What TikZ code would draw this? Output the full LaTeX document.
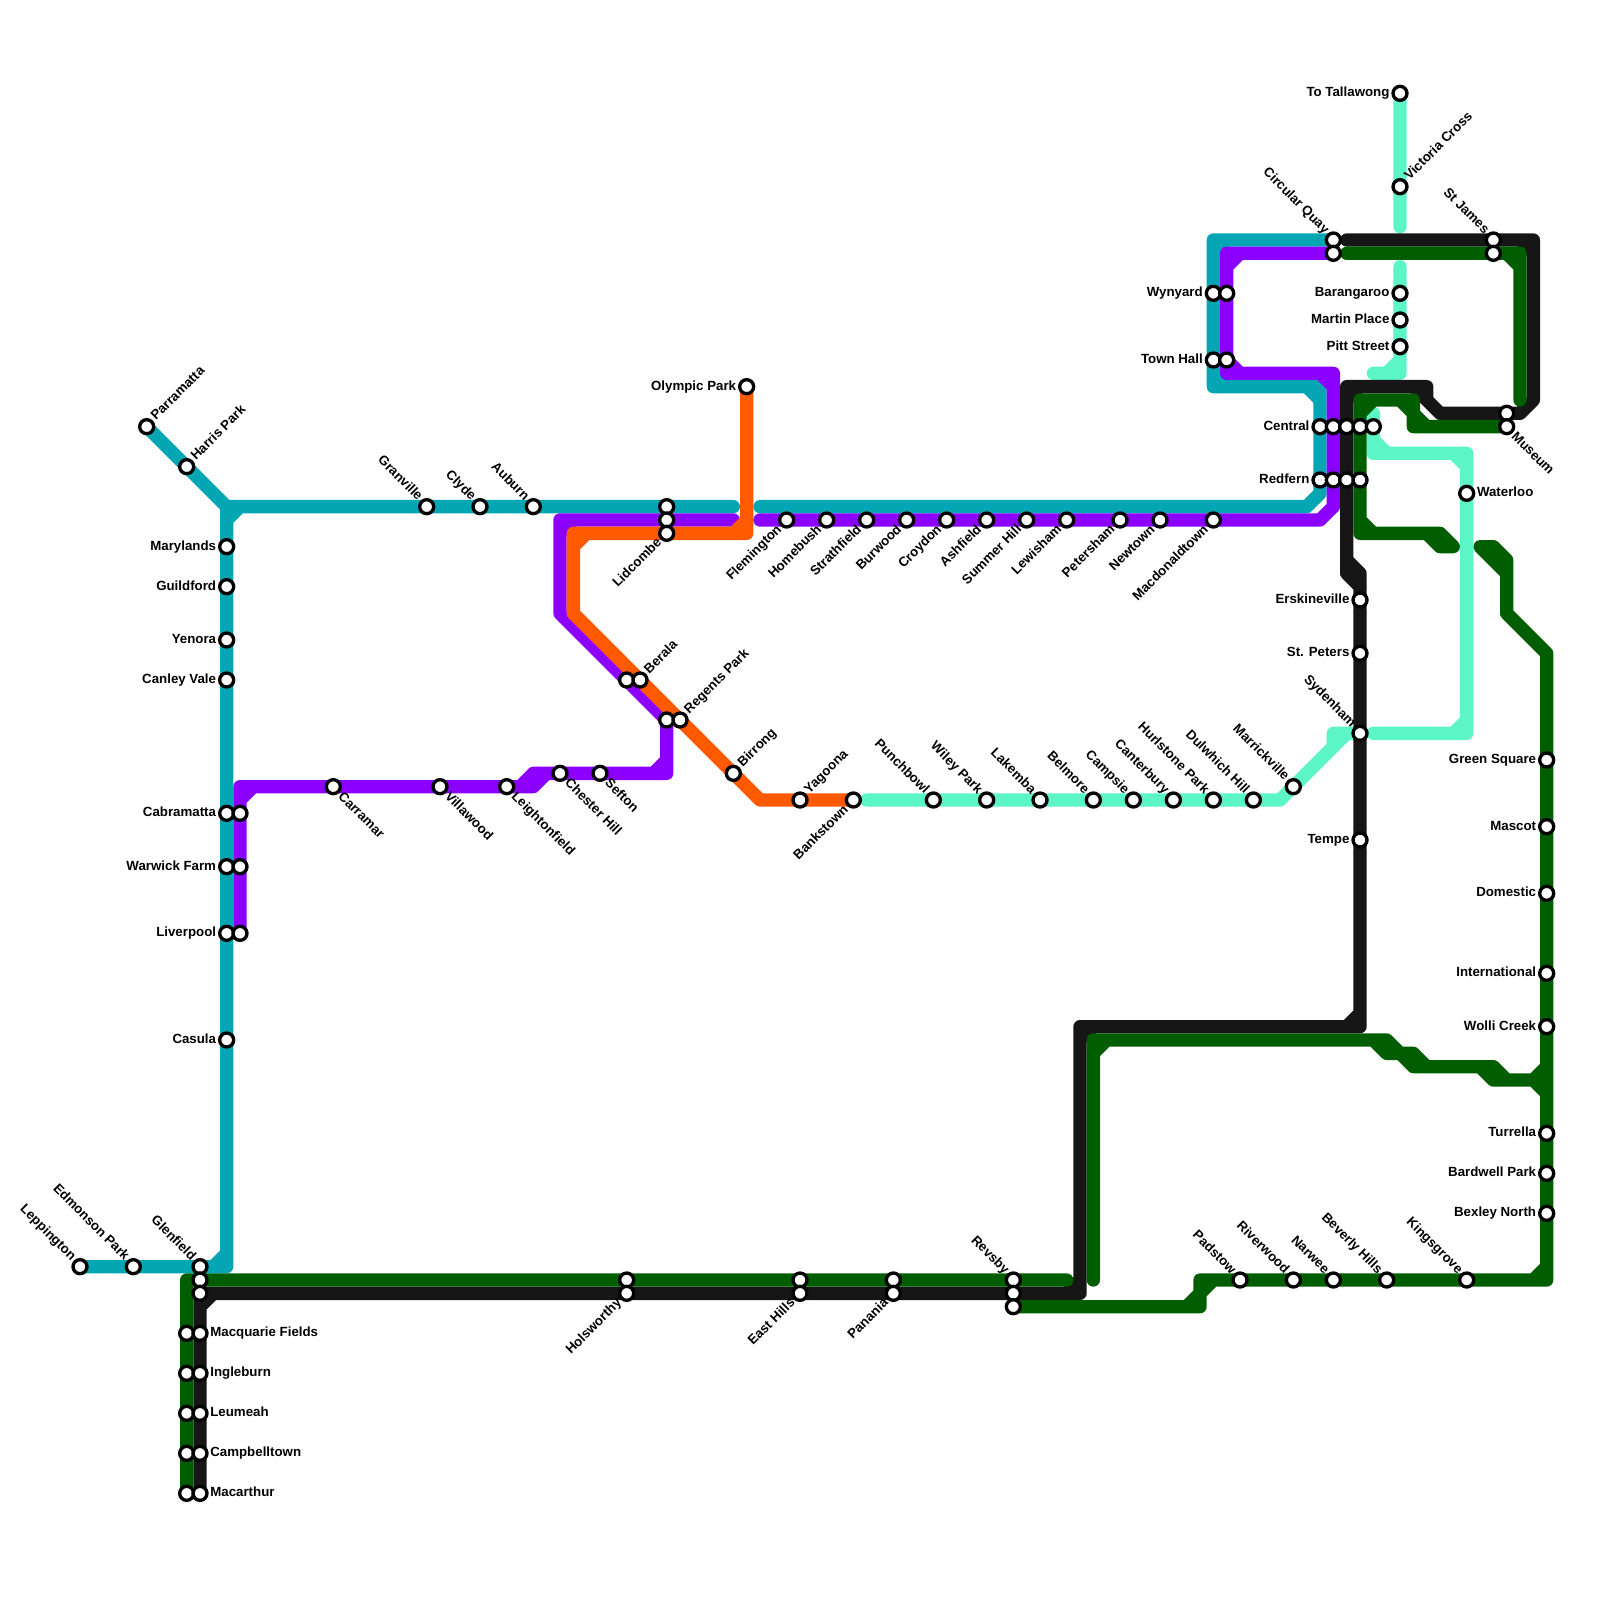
\documentclass[tikz,border=0pt]{standalone}
\usepackage{fontspec}
\setmainfont{Liberation Sans}
\pgfdeclarelayer{lines}
\pgfsetlayers{lines,main}
\definecolor{lteal}{RGB}{3,166,178}
\definecolor{lpurple}{RGB}{139,0,255}
\definecolor{lorange}{RGB}{255,90,0}
\definecolor{lmint}{RGB}{91,245,198}
\definecolor{lgreen}{RGB}{0,94,0}
\definecolor{lblack}{RGB}{22,22,22}
\tikzset{
  ln/.style={line width=2mm,line cap=round,line join=round},
  stn/.style={circle,draw=black,fill=white,line width=.05cm,minimum size=.21cm,inner sep=0pt},
  lab/.style={font=\bfseries\fontsize{5.67pt}{6pt}\selectfont,inner sep=0pt,text height=4.2pt,text depth=1.2pt,text=black}
}
\newcommand{\stN}[3]{\node[stn] (#1) at (#2,#3) {};}
\newcommand{\stL}[4]{\stN{#1}{#2}{#3}\node[lab,anchor=east] (#1t) at ([shift={(-.76,0)}]#1.center) {#4};}
\newcommand{\stR}[4]{\stN{#1}{#2}{#3}\node[lab,anchor=west] (#1t) at ([shift={(.74,0)}]#1.center) {#4};}
\newcommand{\stUR}[4]{\stN{#1}{#2}{#3}\node[lab,anchor=west,rotate=45] (#1t) at ([shift={(.5,-.6)}]#1.center) {#4};}
\newcommand{\stUL}[4]{\stN{#1}{#2}{#3}\node[lab,anchor=east,rotate=-45] (#1t) at ([shift={(-.48,-.58)}]#1.center) {#4};}
\newcommand{\stDL}[4]{\stN{#1}{#2}{#3}\node[lab,anchor=east,rotate=45] (#1t) at ([shift={(-.5,.56)}]#1.center) {#4};}
\newcommand{\stDR}[4]{\stN{#1}{#2}{#3}\node[lab,anchor=west,rotate=-45] (#1t) at ([shift={(.48,.58)}]#1.center) {#4};}
\begin{document}
\begin{tikzpicture}[x=.2cm,y=-.2cm]
\useasboundingbox (0,0) rectangle (120,120);
% stations: teal west
\stUL{lep}{6}{95}{Leppington}
\stUL{edm}{10}{95}{Edmonson Park}
\stUL{gle}{15}{95}{Glenfield}
\stN{glb}{15}{96}
\stN{glc}{15}{97}
\stUR{par}{11}{32}{Parramatta}
\stUR{har}{14}{35}{Harris Park}
\stL{mar}{17}{41}{Marylands}
\stL{gui}{17}{44}{Guildford}
\stL{yen}{17}{48}{Yenora}
\stL{can}{17}{51}{Canley Vale}
\stL{cab}{17}{61}{Cabramatta}
\stN{cabb}{18}{61}
\stL{war}{17}{65}{Warwick Farm}
\stN{warb}{18}{65}
\stL{liv}{17}{70}{Liverpool}
\stN{livb}{18}{70}
\stL{cas}{17}{78}{Casula}
\stUL{gra}{32}{38}{Granville}
\stUL{cly}{36}{38}{Clyde}
\stUL{aub}{40}{38}{Auburn}
\stN{lida}{50}{38}
\stN{lidb}{50}{39}
\stDL{lid}{50}{40}{Lidcombe}
% purple
\stDR{crr}{25}{59}{Carramar}
\stDR{vil}{33}{59}{Villawood}
\stDR{lei}{38}{59}{Leightonfield}
\stDR{che}{42}{58}{Chester Hill}
\stDR{sef}{45}{58}{Sefton}
\stN{berb}{47}{51}
\stUR{ber}{48}{51}{Berala}
\stN{regb}{50}{54}
\stUR{reg}{51}{54}{Regents Park}
\stUR{bir}{55}{58}{Birrong}
\stUR{yag}{60}{60}{Yagoona}
\stDL{ban}{64}{60}{Bankstown}
\stL{oly}{56}{29}{Olympic Park}
\stDL{fle}{59}{39}{Flemington}
\stDL{hom}{62}{39}{Homebush}
\stDL{str}{65}{39}{Strathfield}
\stDL{bur}{68}{39}{Burwood}
\stDL{cro}{71}{39}{Croydon}
\stDL{ash}{74}{39}{Ashfield}
\stDL{sum}{77}{39}{Summer Hill}
\stDL{lew}{80}{39}{Lewisham}
\stDL{pet}{84}{39}{Petersham}
\stDL{new}{87}{39}{Newtown}
\stDL{mac}{91}{39}{Macdonaldtown}
% mint
\stUL{pun}{70}{60}{Punchbowl}
\stUL{wil}{74}{60}{Wiley Park}
\stUL{lak}{78}{60}{Lakemba}
\stUL{bel}{82}{60}{Belmore}
\stUL{cam}{85}{60}{Campsie}
\stUL{cnt}{88}{60}{Canterbury}
\stUL{hur}{91}{60}{Hurlstone Park}
\stUL{dul}{94}{60}{Dulwhich Hill}
\stUL{mrk}{97}{59}{Marrickville}
\stUL{syd}{102}{55}{Sydenham}
\stL{tal}{105}{7}{To Tallawong}
\stUR{vic}{105}{14}{Victoria Cross}
\stL{bar}{105}{22}{Barangaroo}
\stL{mpl}{105}{24}{Martin Place}
\stL{pit}{105}{26}{Pitt Street}
\stR{wat}{110}{37}{Waterloo}
% city
\stUL{cq}{100}{18}{Circular Quay}
\stN{cqb}{100}{19}
\stUL{sj}{112}{18}{St James}
\stN{sjb}{112}{19}
\stN{mua}{113}{31}
\stDR{mus}{113}{32}{Museum}
\stL{wyn}{91}{22}{Wynyard}
\stN{wynb}{92}{22}
\stL{tow}{91}{27}{Town Hall}
\stN{towb}{92}{27}
\stL{cen}{99}{32}{Central}
\stN{cenb}{100}{32}
\stN{cenc}{101}{32}
\stN{cend}{102}{32}
\stN{cene}{103}{32}
\stL{red}{99}{36}{Redfern}
\stN{redb}{100}{36}
\stN{redc}{101}{36}
\stN{redd}{102}{36}
\stL{ers}{102}{45}{Erskineville}
\stL{stp}{102}{49}{St. Peters}
\stL{tem}{102}{63}{Tempe}
% green east
\stL{gsq}{116}{57}{Green Square}
\stL{mas}{116}{62}{Mascot}
\stL{dom}{116}{67}{Domestic}
\stL{int}{116}{73}{International}
\stL{wol}{116}{77}{Wolli Creek}
\stL{tur}{116}{85}{Turrella}
\stL{bwp}{116}{88}{Bardwell Park}
\stL{bxn}{116}{91}{Bexley North}
\stUL{kin}{110}{96}{Kingsgrove}
\stUL{bev}{104}{96}{Beverly Hills}
\stUL{nar}{100}{96}{Narwee}
\stUL{riv}{97}{96}{Riverwood}
\stUL{pad}{93}{96}{Padstow}
\stUL{rev}{76}{96}{Revsby}
\stN{revb}{76}{97}
\stN{revc}{76}{98}
\stN{pana}{67}{96}
\stDL{pan}{67}{97}{Panania}
\stN{eaa}{60}{96}
\stDL{eas}{60}{97}{East Hills}
\stN{hola}{47}{96}
\stDL{hol}{47}{97}{Holsworthy}
% south-west
\stN{mqa}{14}{100}
\stR{mqf}{15}{100}{Macquarie Fields}
\stN{inga}{14}{103}
\stR{ing}{15}{103}{Ingleburn}
\stN{leua}{14}{106}
\stR{leu}{15}{106}{Leumeah}
\stN{cama}{14}{109}
\stR{cmp}{15}{109}{Campbelltown}
\stN{maca}{14}{112}
\stR{mcr}{15}{112}{Macarthur}
\begin{pgfonlayer}{lines}
% teal
\draw[ln,lteal] (lep.center) -- (17,95) -- (17,38) (17,94) -- (16,95)
  (par.center) -- (17,38) -- (55,38) (17,39) -- (18,38)
  (57,38) -- (98,38) -- (99,37) -- (99,29) -- (91,29) -- (91,18) -- (cq.center)
  (98,29) -- (99,30) (91,28) -- (92,29) (91,19) -- (92,18);
% purple
\draw[ln,lpurple] (55,39) -- (42,39) -- (42,46) -- (regb.center) -- (50,58) -- (41,58) -- (40,59) -- (18,59) -- (livb.center)
  (39,59) -- (40,58) -- (41,58) (50,57) -- (49,58) (42,40) -- (43,39) (18,60) -- (19,59)
  (57,39) -- (99,39) -- (100,38) -- (100,28) -- (92,28) -- (92,19) -- (cqb.center)
  (99,28) -- (100,29) (92,27) -- (93,28) (92,20) -- (93,19);
% orange
\draw[ln,lorange] (oly.center) -- (56,40) -- (43,40) -- (43,46) -- (57,60) -- (ban.center)
  (55,40) -- (56,39) (43,41) -- (44,40);
% mint
\draw[ln,lmint] (tal.center) -- (105,17) (105,20) -- (105,28) -- (103,28) (104,28) -- (105,27)
  (103,31) -- (103,34) -- (110,34) -- (110,55) -- (103,55)
  (103,33) -- (104,34) (109,34) -- (110,35) (110,54) -- (109,55)
  (65,60) -- (96,60) -- (101,55) -- (100,55) -- (100,56) (101,55) -- (syd.center);
% black
\draw[ln,lblack] (mcr.center) -- (glc.center) -- (81,97) -- (81,77) -- (102,77) -- (102,43) -- (101,42) -- (101,29) -- (107,29) -- (107,30) -- (108,31) -- (114,31) -- (115,30) -- (115,18) -- (101,18)
  (101,42) -- (101,43) -- (102,44) -- (102,43)
  (15,98) -- (16,97) (80,97) -- (81,96) (81,78) -- (82,77) (101,77) -- (102,76) (101,30) -- (102,29) (106,29) -- (107,30) (114,18) -- (115,19);
% green
\draw[ln,lgreen] (maca.center) -- (14,96) -- (80,96)
  (82,96) -- (82,78) -- (104,78) -- (105,79) -- (106,79) -- (107,80) -- (112,80) -- (113,81) -- (115,81) -- (116,80)
  (115,81) -- (116,82) (82,79) -- (83,78)
  (103,78) -- (104,79) -- (105,79) (105,79) -- (106,80) -- (107,80) (111,80) -- (112,81) -- (113,81)
  (revc.center) -- (90,98) -- (90,96) -- (116,96) -- (116,49) -- (113,46) -- (113,42) -- (112,41) -- (111,41) -- (113,43)
  (89,98) -- (90,97) (90,97) -- (91,96) (115,96) -- (116,95)
  (101,19) -- (114,19) -- (114,30) (113,19) -- (114,20)
  (mus.center) -- (106,32) -- (106,30) -- (102,30) -- (102,40) -- (108,40) -- (109,41) -- (108,41) -- (107,40)
  (105,30) -- (107,32) (102,31) -- (103,30) (102,39) -- (103,40);
\end{pgfonlayer}
\end{tikzpicture}
\end{document}
